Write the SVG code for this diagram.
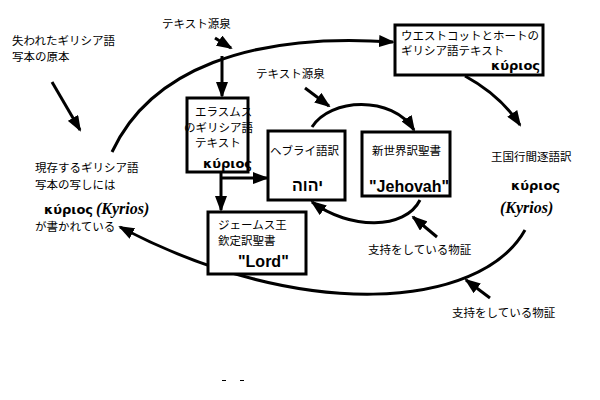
<svg xmlns="http://www.w3.org/2000/svg" width="600" height="400" viewBox="0 0 600 400">
<defs>
<marker id="ah" markerWidth="16" markerHeight="12" refX="14" refY="6" orient="auto" markerUnits="userSpaceOnUse">
<path d="M0,0 L16,6 L0,12 Z" fill="#000"/>
</marker>
<style>
.t{font-family:"Noto Sans CJK JP","Liberation Sans",sans-serif;font-size:11.5px;fill:#000}
.g{font-family:"DejaVu Sans","Liberation Sans",sans-serif;font-weight:bold;font-size:13px;fill:#000}
.k{font-family:"Liberation Serif",serif;font-weight:bold;font-style:italic;font-size:16px;fill:#000}
.q{font-family:"Liberation Sans",sans-serif;font-weight:bold;font-size:16px;fill:#000}
.box{fill:#fff;stroke:#000;stroke-width:3}
.c{fill:none;stroke:#000;stroke-width:3;marker-end:url(#ah)}
</style>
</defs>
<rect width="600" height="400" fill="#fff"/>
<g id="connectors">
<path class="c" d="M112,152 C150,70 250,32 393,42"/>
<path class="c" d="M222,56 L222,96"/>
<path class="c" d="M465,76 Q500,95 520,125"/>
<path class="c" d="M525,230 C480,310 300,322 120,227"/>
<path class="c" d="M221,172 L221,210"/>
<path class="c" d="M221,178 L267,178"/>
<path class="c" d="M312,127 C330,98 392,95 414,130"/>
<path class="c" d="M420,200 C405,230 350,230 312,202"/>
<path class="c" d="M52,82 L80,130"/>
<path class="c" d="M215,38 L231,48"/>
<path class="c" d="M305,88 L329,106"/>
<path class="c" d="M437,237 L413,217"/>
<path class="c" d="M490,298 L466,280"/>
</g>
<g id="lost-original">
<text class="t" x="12" y="45">失われたギリシア語</text>
<text class="t" x="12" y="61">写本の原本</text>
</g>
<g id="text-source-1"><text class="t" x="162" y="28">テキスト源泉</text></g>
<g id="text-source-2"><text class="t" x="256" y="78">テキスト源泉</text></g>
<g id="existing-copies">
<text class="t" x="35" y="172">現存するギリシア語</text>
<text class="t" x="35" y="189">写本の写しには</text>
<text class="g" x="44" y="214">κύριος</text>
<text class="k" x="96" y="214">(Kyrios)</text>
<text class="t" x="35" y="231">が書かれている</text>
</g>
<g id="erasmus">
<rect class="box" x="187" y="98" width="61" height="74"/>
<text class="t" x="195" y="116">エラスムス</text>
<text class="t" x="184" y="132">のギリシア語</text>
<text class="t" x="195" y="147">テキスト</text>
<text class="g" x="203" y="168" font-size="11">κύριος</text>
</g>
<g id="westcott-hort">
<rect class="box" x="395" y="25" width="148" height="50"/>
<text class="t" x="401" y="40" font-size="11">ウエストコットとホートの</text>
<text class="t" x="401" y="55" font-size="11">ギリシア語テキスト</text>
<text class="g" x="491" y="70" font-size="11">κύριος</text>
</g>
<g id="hebrew">
<rect class="box" x="268" y="131" width="77" height="69"/>
<text class="t" x="270" y="155">ヘブライ語訳</text>
<text class="q" x="292" y="191">יהוה</text>
</g>
<g id="nwt">
<rect class="box" x="362" y="132" width="88" height="64"/>
<text class="t" x="372" y="155">新世界訳聖書</text>
<text class="q" x="369" y="192">"Jehovah"</text>
</g>
<g id="kjv">
<rect class="box" x="208" y="212" width="98" height="62"/>
<text class="t" x="218" y="229">ジェームス王</text>
<text class="t" x="218" y="245">欽定訳聖書</text>
<text class="q" x="238" y="267">"Lord"</text>
</g>
<g id="kingdom-interlinear">
<text class="t" x="491" y="161">王国行間逐語訳</text>
<text class="g" x="511" y="190">κύριος</text>
<text class="k" x="500" y="213">(Kyrios)</text>
</g>
<g id="evidence-1"><text class="t" x="368" y="254">支持をしている物証</text></g>
<g id="evidence-2"><text class="t" x="452" y="317">支持をしている物証</text></g>
<g id="marks">
<rect x="222" y="380" width="4" height="1" fill="#000"/>
<rect x="240" y="380" width="4" height="1" fill="#000"/>
</g>
</svg>
